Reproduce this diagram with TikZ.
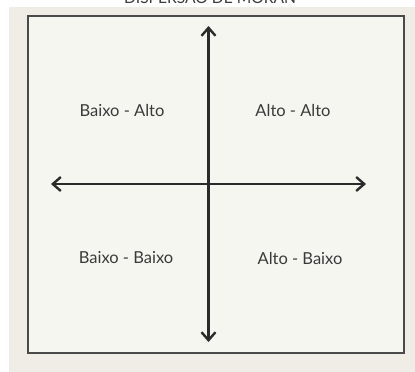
\documentclass[tikz,border=0pt]{standalone}
\usepackage{fontspec}
\setmainfont{Lato}
\usetikzlibrary{arrows.meta}
\definecolor{panel}{HTML}{F0EDE6}
\definecolor{inner}{HTML}{F6F6F1}
\definecolor{frame}{HTML}{4A4A4A}
\definecolor{axis}{HTML}{2B2B2B}
\definecolor{txt}{HTML}{3A3A3A}
\tikzset{
  quad/.style={text=txt, font=\fontsize{16.5}{19}\selectfont, inner sep=0pt},
  axisline/.style={draw=axis, line width=2.6pt, -{Straight Barb[length=8pt,width=14pt,line width=2.4pt]}},
}
\begin{document}
\begin{tikzpicture}[x=1pt,y=-1pt]
\useasboundingbox (0,0) rectangle (415,372);
\begin{scope}
\clip (0,0) rectangle (415,372);
\node[text=txt, font=\fontsize{15.6}{18}\selectfont, anchor=base, inner sep=0pt] (title) at (210,4) {DISPERSÃO DE MORAN};
\end{scope}
\fill[panel] (9,7) rectangle (415,372);
\draw[frame, fill=inner, line width=1.6pt] (28,16) rectangle (404,353);
\coordinate (c) at (208.5,184);
\coordinate (top) at (208.5,26);
\coordinate (bot) at (208.5,342);
\coordinate (lft) at (51,184);
\coordinate (rgt) at (366,184);
\draw[axisline] (c) -- (top);
\draw[axisline] (c) -- (bot);
\draw[axisline] (c) -- (lft);
\draw[axisline] (c) -- (rgt);
\node[quad] (ba) at (122,110) {Baixo - Alto};
\node[quad] (aa) at (293,110) {Alto - Alto};
\node[quad] (bb) at (126,258) {Baixo - Baixo};
\node[quad] (ab) at (300,258) {Alto - Baixo};
\end{tikzpicture}
\end{document}
